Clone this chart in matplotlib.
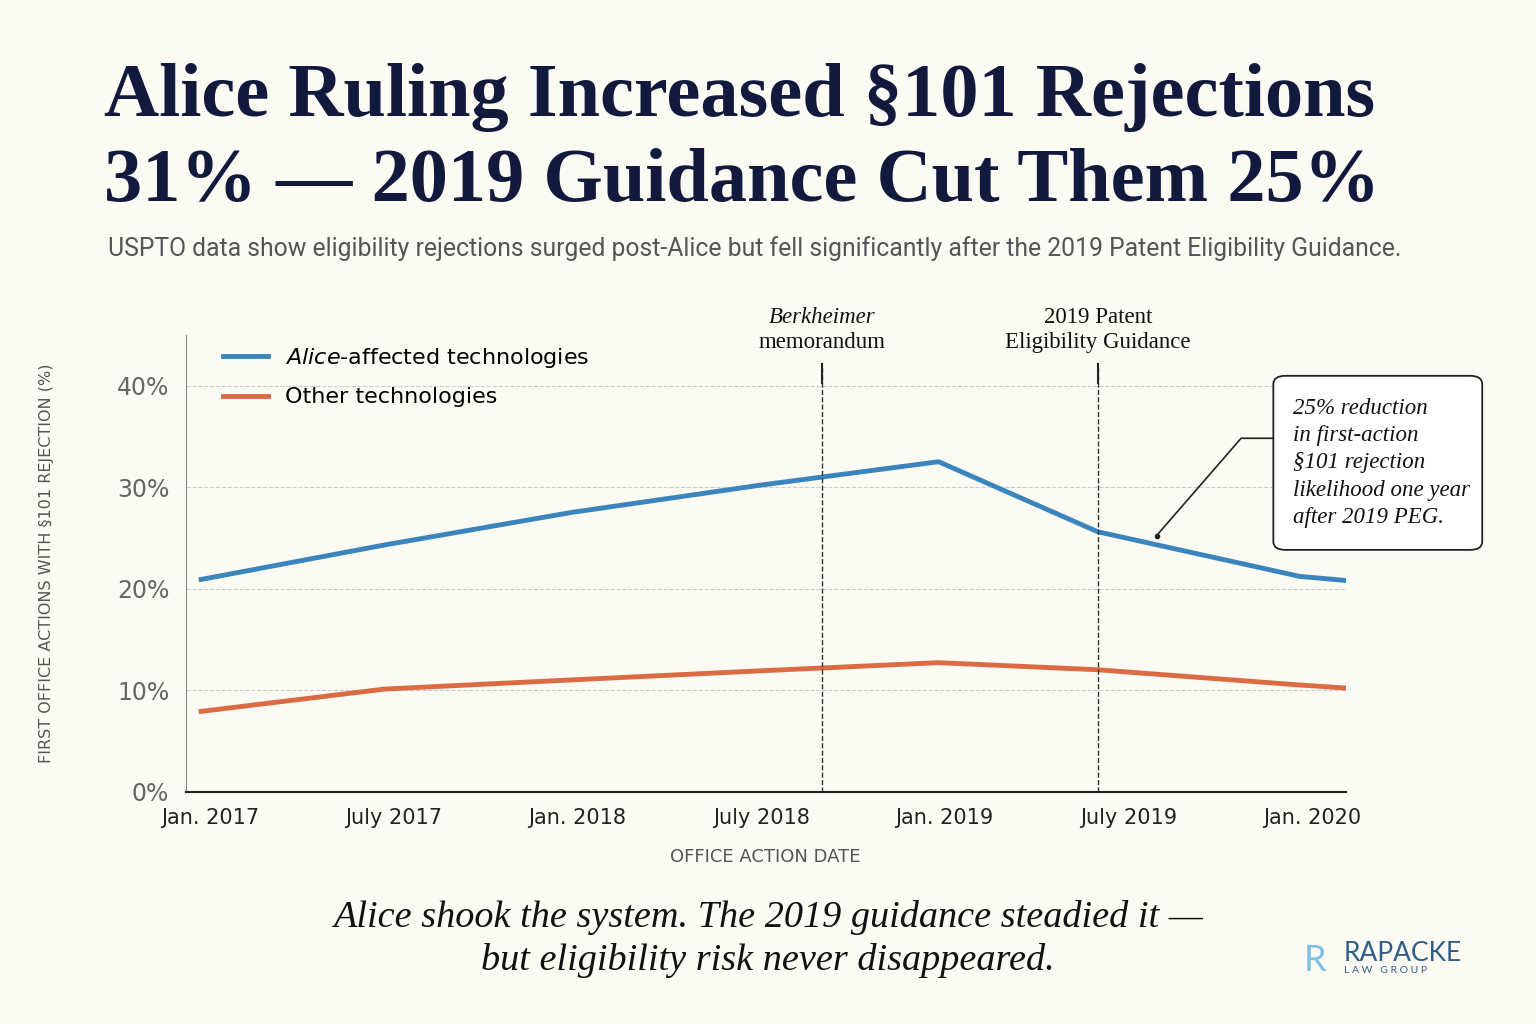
import matplotlib.pyplot as plt
from matplotlib.patches import FancyBboxPatch

# months since Jan. 2017
months = [-0.3, 5.7, 11.8, 18.0, 23.8, 29.0, 35.6, 37.1]
alice = [20.9, 24.3, 27.5, 30.2, 32.5, 25.6, 21.2, 20.8]
other = [7.9, 10.1, 11.0, 11.9, 12.7, 12.0, 10.5, 10.2]
tick_months = [0, 6, 12, 18, 24, 30, 36]
tick_labels = ["Jan. 2017", "July 2017", "Jan. 2018", "July 2018", "Jan. 2019", "July 2019", "Jan. 2020"]
events = [(20.0, ["Berkheimer", "memorandum"], "italic"), (29.0, ["2019 Patent", "Eligibility Guidance"], "normal")]

bg = "#fbfaf3"
navy = "#111a3d"
plt.rcParams["mathtext.fontset"] = "custom"
plt.rcParams["mathtext.it"] = "DejaVu Sans:italic"
fig = plt.figure(figsize=(15.36, 10.24), dpi=100, facecolor=bg)

fig.text(0.068, 0.905, "Alice Ruling Increased §101 Rejections", fontsize=55, weight="bold",
         family="Liberation Serif", color=navy, va="center")
fig.text(0.068, 0.822, "31% — 2019 Guidance Cut Them 25%", fontsize=55, weight="bold",
         family="Liberation Serif", color=navy, va="center")
fig.text(0.07, 0.757, "USPTO data show eligibility rejections surged post-Alice but fell significantly after the 2019 Patent Eligibility Guidance.",
         fontsize=17.8, color="#555555", va="center", family="Roboto")

ax = fig.add_axes([0.121, 0.227, 0.755, 0.446])
ax.set_facecolor(bg)
ax.plot(months, alice, color="#3a85bd", lw=3.5, label="$Alice$-affected technologies")
ax.plot(months, other, color="#dc6a45", lw=3.5, label="Other technologies")
ax.set_xlim(-0.8, 37.1)
ax.set_ylim(0, 45)
ax.set_yticks([0, 10, 20, 30, 40])
ax.set_yticklabels([f"{v}%" for v in [0, 10, 20, 30, 40]], fontsize=17, color="#666666")
ax.set_xticks(tick_months)
ax.set_xticklabels(tick_labels, fontsize=15, color="#222222")
ax.tick_params(length=0, pad=12)
ax.grid(axis="y", ls="--", color="#cccccc", lw=0.8)
for s in ["top", "right"]:
    ax.spines[s].set_visible(False)
ax.spines["left"].set_color("#888888")
ax.spines["bottom"].set_color("#222222")
ax.spines["bottom"].set_linewidth(1.5)
ax.set_xlabel("OFFICE ACTION DATE", fontsize=13, color="#555555", labelpad=14)
ax.set_ylabel("FIRST OFFICE ACTIONS WITH §101 REJECTION (%)", fontsize=11.5, color="#555555", labelpad=45)

for x, lines, st in events:
    ax.axvline(x, ymax=0.935, color="#333333", ls="--", lw=1)
    ax.plot([x, x], [40.3, 42.1], color="#222222", lw=1.5)
    ax.text(x, 46.7, lines[0], ha="center", va="center", fontsize=16.5, family="Liberation Serif",
            style=st, color="#111111", clip_on=False)
    ax.text(x, 44.2, lines[1], ha="center", va="center", fontsize=16.5, family="Liberation Serif",
            color="#111111", clip_on=False)

ax.legend(loc="upper left", bbox_to_anchor=(0.015, 1.02), frameon=False, fontsize=16,
          handlelength=2.0, labelspacing=0.8)

box = FancyBboxPatch((0.829, 0.463), 0.136, 0.17, transform=fig.transFigure,
                     boxstyle="round,pad=0,rounding_size=0.008", fc="white", ec="#222222", lw=1.3)
fig.patches.append(box)
fig.text(0.842, 0.548, "25% reduction\nin first-action\n§101 rejection\nlikelihood one year\nafter 2019 PEG.",
         fontsize=16.5, family="Liberation Serif", style="italic", va="center", linespacing=1.4, color="#111111")
fig.add_artist(plt.Line2D([0.753, 0.808, 0.829], [0.477, 0.572, 0.572], transform=fig.transFigure,
                          color="#222222", lw=1.2))
fig.add_artist(plt.Line2D([0.753], [0.477], transform=fig.transFigure, marker="o", ms=3, color="#222222"))

fig.text(0.5, 0.083, "Alice shook the system. The 2019 guidance steadied it —\nbut eligibility risk never disappeared.",
         ha="center", va="center", fontsize=27.5, family="Liberation Serif", style="italic",
         color="#111111", linespacing=1.3)
fig.text(0.875, 0.069, "RAPACKE", fontsize=19, color="#2f5d86", va="center", family="Lato")
fig.text(0.875, 0.052, "L A W   G R O U P", fontsize=7.5, color="#2f5d86", va="center", family="Lato")
fig.text(0.856, 0.062, "R", fontsize=26, color="#7fc1e6", va="center", ha="center", family="Lato")

fig.savefig("out.png", facecolor=bg)
